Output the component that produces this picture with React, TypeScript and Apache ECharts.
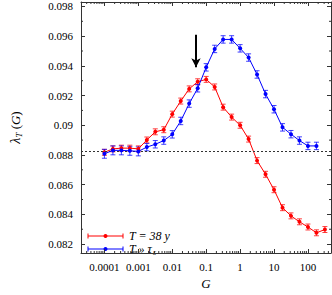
import React, { useEffect, useRef } from "react";
import * as echarts from "echarts";

// G values (quarter-decade grid)
const G = [
  0.0001, 0.000178, 0.000316, 0.000562, 0.001, 0.00178, 0.00316, 0.00562,
  0.01, 0.0178, 0.0316, 0.0562, 0.1, 0.178, 0.316, 0.562, 1, 1.78, 3.16, 5.62,
  10, 17.8, 31.6, 56.2, 100, 178, 316,
];

// T = 38 y (red)
const redLambda = [
  0.08818, 0.08841, 0.08846, 0.08846, 0.08841, 0.08901, 0.08956, 0.0897,
  0.09075, 0.09163, 0.09245, 0.09293, 0.09309, 0.09258, 0.09122, 0.09055,
  0.09, 0.08907, 0.08762, 0.0867, 0.08566, 0.08445, 0.0839, 0.0835, 0.08315,
  0.08276, 0.08298,
];
const redErr = [
  0.0002, 0.0002, 0.0002, 0.0002, 0.0002, 0.0002, 0.0002, 0.0002, 0.0002,
  0.0002, 0.0002, 0.0002, 0.0002, 0.0002, 0.0002, 0.0002, 0.0002, 0.0002,
  0.0002, 0.0002, 0.0002, 0.0002, 0.0002, 0.0002, 0.0002, 0.0002, 0.0002,
];

// T >> tau_s (blue)
const blueLambda = [
  0.08808, 0.08831, 0.08831, 0.08828, 0.08824, 0.08853, 0.08872, 0.08897,
  0.08939, 0.09029, 0.09146, 0.09249, 0.0939, 0.09514, 0.09578, 0.09578,
  0.09518, 0.09456, 0.09342, 0.0921, 0.09108, 0.08986, 0.0894, 0.08897,
  0.08861, 0.08861,
];
const blueErr = [
  0.0003, 0.0003, 0.0003, 0.0003, 0.0003, 0.00025, 0.00025, 0.00025, 0.00025,
  0.00025, 0.00025, 0.00025, 0.00025, 0.00025, 0.00025, 0.00025, 0.00025,
  0.00025, 0.00025, 0.00025, 0.00025, 0.00025, 0.00025, 0.00025, 0.00025,
  0.00025,
];

const baseline = 0.08828;
const arrowG = 0.05;
const arrowTop = 0.0961;
const arrowTip = 0.0939;

const xMin = 2.04e-5;
const xMax = 478;
const yMin = 0.0814;
const yMax = 0.0983;
const yMinorTicks = [0.081, 0.083, 0.085, 0.087, 0.089, 0.091, 0.093, 0.095, 0.097];
const xDecades = [1e-5, 1e-4, 1e-3, 1e-2, 1e-1, 1, 10, 100];
const xMinorFactors = [2, 3, 4, 5, 6, 7, 8, 9];

const RED = "#ff0000";
const BLUE = "#0000ff";
const FONT = "Liberation Serif";
const AXIS = "#333";

export default function App() {
  const ref = useRef<HTMLDivElement>(null);
  useEffect(() => {
    document.body.style.margin = "0";
    const chart = echarts.init(ref.current!, null, { renderer: "svg" });

    const xMinor: number[] = [];
    xDecades.forEach((d) =>
      xMinorFactors.forEach((f) => {
        const v = d * f;
        if (v > xMin && v < xMax) xMinor.push(v);
      })
    );

    const errSeries = (vals: number[], errs: number[], color: string) => ({
      type: "custom",
      silent: true,
      z: 3,
      data: vals.map((v, i) => [G[i], v, errs[i]]),
      renderItem: (params: any, api: any) => {
        const x = api.value(0);
        const y = api.value(1);
        const e = api.value(2);
        const t = api.coord([x, y + e]);
        const b = api.coord([x, y - e]);
        const hw = 2.5;
        const st = { stroke: color, lineWidth: 1, opacity: 0.75 };
        return {
          type: "group",
          children: [
            { type: "line", shape: { x1: t[0], y1: t[1], x2: b[0], y2: b[1] }, style: st },
            { type: "line", shape: { x1: t[0] - hw, y1: t[1], x2: t[0] + hw, y2: t[1] }, style: st },
            { type: "line", shape: { x1: b[0] - hw, y1: b[1], x2: b[0] + hw, y2: b[1] }, style: st },
          ],
        };
      },
    });

    const fmtX = (v: number) => {
      const l = Math.log10(v);
      if (Math.abs(l - Math.round(l)) > 1e-6) return "";
      return String(parseFloat(v.toPrecision(1)));
    };

    const legendMark = (y: number, color: string) => [
      { type: "line", shape: { x1: 88, y1: y, x2: 123, y2: y }, style: { stroke: color, lineWidth: 1 } },
      { type: "line", shape: { x1: 88, y1: y - 2.5, x2: 88, y2: y + 2.5 }, style: { stroke: color, lineWidth: 1 } },
      { type: "line", shape: { x1: 123, y1: y - 2.5, x2: 123, y2: y + 2.5 }, style: { stroke: color, lineWidth: 1 } },
      { type: "circle", shape: { cx: 105.5, cy: y, r: 2 }, style: { fill: color } },
    ];
    const legendText = (x: number, y: number, text: string, size: number) => ({
      type: "text",
      x,
      y,
      style: {
        text,
        fontFamily: FONT,
        fontSize: size,
        fontStyle: "italic",
        fill: "#000",
        verticalAlign: "middle",
      },
    });

    chart.setOption({
      animation: false,
      grid: { left: 73, right: 1, top: 2, bottom: 37, containLabel: false },
      xAxis: [
        {
          type: "log",
          logBase: 10,
          min: xMin,
          max: xMax,
          position: "bottom",
          axisLine: { show: true, lineStyle: { color: AXIS, width: 1 } },
          axisTick: { show: true, inside: true, length: 4, lineStyle: { color: AXIS } },
          axisLabel: {
            formatter: fmtX,
            fontFamily: FONT,
            fontSize: 11,
            color: "#000",
            margin: 8,
            showMinLabel: false,
            showMaxLabel: false,
          },
          splitLine: { show: false },
          name: "G",
          nameLocation: "middle",
          nameGap: 24,
          nameTextStyle: { fontFamily: FONT, fontSize: 13, fontStyle: "italic", color: "#000" },
        },
        {
          type: "log",
          logBase: 10,
          min: xMin,
          max: xMax,
          position: "top",
          axisLine: { show: true, lineStyle: { color: AXIS, width: 1 } },
          axisTick: { show: true, inside: true, length: 4, lineStyle: { color: AXIS } },
          axisLabel: { show: false },
          splitLine: { show: false },
        },
      ],
      yAxis: [
        {
          type: "value",
          min: yMin,
          max: yMax,
          splitNumber: 8,
          position: "left",
          axisLine: { show: true, lineStyle: { color: AXIS, width: 1 } },
          axisTick: { show: true, inside: true, length: 4, lineStyle: { color: AXIS } },
          axisLabel: {
            formatter: (v: number) => String(parseFloat(v.toFixed(4))),
            fontFamily: FONT,
            fontSize: 11,
            color: "#000",
            margin: 8,
            showMinLabel: false,
            showMaxLabel: false,
          },
          splitLine: { show: false },
          name: "{l|λ}{s|T}{n| (}{i|G}{n|)}",
          nameLocation: "middle",
          nameRotate: 90,
          nameGap: 58,
          nameTextStyle: {
            fontFamily: FONT,
            fontSize: 13,
            color: "#000",
            rich: {
              l: { fontFamily: FONT, fontSize: 14, fontStyle: "italic", color: "#000" },
              s: { fontFamily: FONT, fontSize: 9, fontStyle: "italic", color: "#000", padding: [7, 0, 0, 0] },
              n: { fontFamily: FONT, fontSize: 13, color: "#000" },
              i: { fontFamily: FONT, fontSize: 13, fontStyle: "italic", color: "#000" },
            },
          },
        },
        {
          type: "value",
          min: yMin,
          max: yMax,
          splitNumber: 8,
          position: "right",
          axisLine: { show: true, lineStyle: { color: AXIS, width: 1 } },
          axisTick: { show: true, inside: true, length: 4, lineStyle: { color: AXIS } },
          axisLabel: { show: false },
          splitLine: { show: false },
        },
      ],
      series: [
        {
          type: "custom",
          silent: true,
          data: xMinor.map((v) => [v, yMin]),
          renderItem: (params: any, api: any) => {
            const p = api.coord([api.value(0), yMin]);
            const cs = params.coordSys;
            const st = { stroke: AXIS, lineWidth: 1 };
            return {
              type: "group",
              children: [
                { type: "line", shape: { x1: p[0], y1: cs.y + cs.height, x2: p[0], y2: cs.y + cs.height - 2 }, style: st },
                { type: "line", shape: { x1: p[0], y1: cs.y, x2: p[0], y2: cs.y + 2 }, style: st },
              ],
            };
          },
        },
        {
          type: "custom",
          silent: true,
          data: yMinorTicks.filter((v) => v > yMin && v < yMax).map((v) => [xMin, v]),
          renderItem: (params: any, api: any) => {
            const p = api.coord([xMin, api.value(1)]);
            const cs = params.coordSys;
            const st = { stroke: AXIS, lineWidth: 1 };
            return {
              type: "group",
              children: [
                { type: "line", shape: { x1: cs.x, y1: p[1], x2: cs.x + 2, y2: p[1] }, style: st },
                { type: "line", shape: { x1: cs.x + cs.width, y1: p[1], x2: cs.x + cs.width - 2, y2: p[1] }, style: st },
              ],
            };
          },
        },
        {
          type: "line",
          name: "T = 38 y",
          data: redLambda.map((v, i) => [G[i], v]),
          symbol: "circle",
          symbolSize: 4,
          lineStyle: { color: RED, width: 1 },
          itemStyle: { color: RED },
          z: 4,
          markLine: {
            silent: true,
            precision: 10,
            symbol: ["none", "none"],
            label: { show: false },
            lineStyle: { color: "#333", type: [2, 2], width: 1 },
            data: [{ yAxis: baseline }],
          },
        },
        errSeries(redLambda, redErr, RED),
        {
          type: "line",
          name: "T » τs",
          data: blueLambda.map((v, i) => [G[i], v]),
          symbol: "circle",
          symbolSize: 4,
          lineStyle: { color: BLUE, width: 1 },
          itemStyle: { color: BLUE },
          z: 5,
          markLine: {
            silent: true,
            precision: 10,
            symbol: ["none", "arrow"],
            symbolSize: [7, 9],
            label: { show: false },
            lineStyle: { color: "#000", type: "solid", width: 2 },
            data: [[{ coord: [arrowG, arrowTop] }, { coord: [arrowG, arrowTip] }]],
          },
        },
        errSeries(blueLambda, blueErr, BLUE),
      ],
      graphic: [
        ...legendMark(236, RED),
        ...legendMark(249, BLUE),
        legendText(129, 236, "T = 38 y", 12),
        legendText(129, 249, "T » τ", 12),
        legendText(153, 252, "s", 8),
      ],
    });
    return () => chart.dispose();
  }, []);
  return <div ref={ref} style={{ width: 332, height: 295 }} />;
}
